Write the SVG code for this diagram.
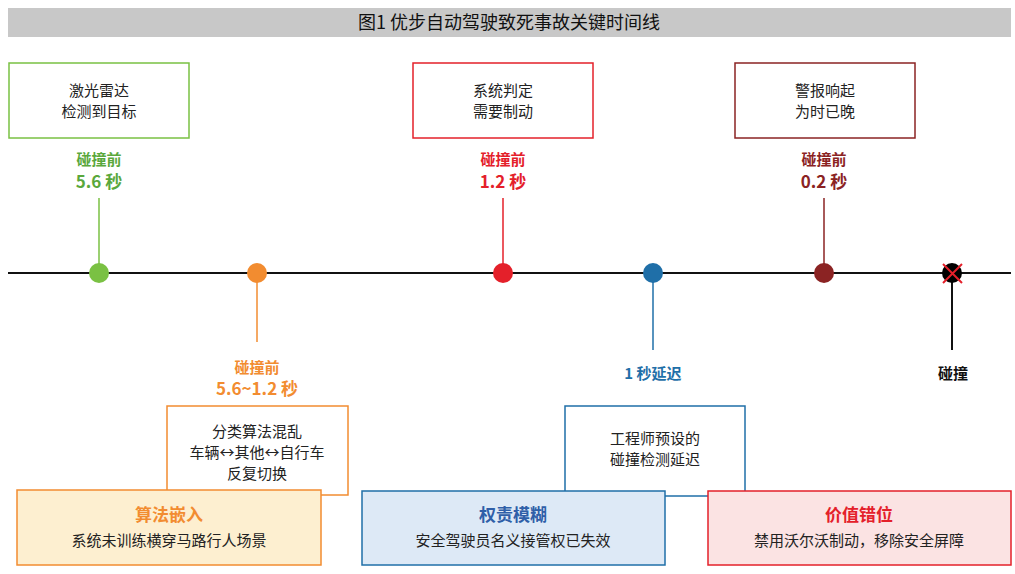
<svg xmlns="http://www.w3.org/2000/svg" width="1015" height="574" viewBox="0 0 1015 574">
<style>
text{font-family:"Noto Sans CJK SC","Liberation Sans",sans-serif;text-anchor:middle}
.t{font-size:15px;fill:#222}
.b{font-size:15px;font-weight:bold}
.bh{font-size:17px;font-weight:bold}
</style>
<rect width="1015" height="574" fill="#fff"/>
<rect x="8" y="8" width="1003" height="29" fill="#c8c8c8"/>
<text x="509" y="29" style="font-size:18px;fill:#111">图1 优步自动驾驶致死事故关键时间线</text>
<g id="connectors">
<line x1="8" y1="273" x2="1011" y2="273" stroke="#111" stroke-width="2"/>
<line x1="99" y1="198" x2="99" y2="273" stroke="#7ac143" stroke-width="1.5"/>
<line x1="503" y1="198" x2="503" y2="273" stroke="#e4202a" stroke-width="1.5"/>
<line x1="824" y1="198" x2="824" y2="273" stroke="#8b2323" stroke-width="1.5"/>
<line x1="257" y1="273" x2="257" y2="342" stroke="#f28c30" stroke-width="1.5"/>
<line x1="653" y1="273" x2="653" y2="350" stroke="#1f6fa8" stroke-width="1.5"/>
<line x1="952" y1="273" x2="952" y2="350" stroke="#111" stroke-width="2"/>
</g>
<g id="dots">
<circle cx="99" cy="273" r="10" fill="#7ac143"/>
<circle cx="257" cy="273" r="10" fill="#f28c30"/>
<circle cx="503" cy="273" r="10" fill="#e4202a"/>
<circle cx="653" cy="273" r="10" fill="#1f6fa8"/>
<circle cx="824" cy="273" r="10" fill="#8b2323"/>
<circle cx="952" cy="273" r="10" fill="#000"/>
<path d="M943 264L962 283M962 264L943 283" stroke="#e4202a" stroke-width="2"/>
</g>
<g id="n1"><rect x="9" y="63" width="180" height="75" fill="#fff" stroke="#7ac143" stroke-width="1.5"/>
<text class="t" x="99" y="96">激光雷达</text><text class="t" x="99" y="117">检测到目标</text>
<text class="b" x="99" y="165" fill="#5aa83c">碰撞前</text><text class="bh" x="99" y="188" fill="#5aa83c">5.6 秒</text></g>
<g id="n2"><rect x="413" y="63" width="180" height="75" fill="#fff" stroke="#e4202a" stroke-width="1.5"/>
<text class="t" x="503" y="96">系统判定</text><text class="t" x="503" y="117">需要制动</text>
<text class="b" x="503" y="165" fill="#e4202a">碰撞前</text><text class="bh" x="503" y="188" fill="#e4202a">1.2 秒</text></g>
<g id="n3"><rect x="735" y="63" width="180" height="75" fill="#fff" stroke="#8b2323" stroke-width="1.5"/>
<text class="t" x="825" y="96">警报响起</text><text class="t" x="825" y="117">为时已晚</text>
<text class="b" x="824" y="165" fill="#8b2323">碰撞前</text><text class="bh" x="824" y="188" fill="#8b2323">0.2 秒</text></g>
<g id="n4"><text class="b" x="257" y="373" fill="#f28c30">碰撞前</text><text class="bh" x="257" y="395" fill="#f28c30">5.6~1.2 秒</text>
<rect x="167" y="406" width="181" height="89" fill="#fff" stroke="#f28c30" stroke-width="1.5"/>
<text class="t" x="257" y="437">分类算法混乱</text><text class="t" x="257" y="458">车辆↔其他↔自行车</text><text class="t" x="257" y="479">反复切换</text></g>
<g id="n5"><text class="b" x="653" y="379" fill="#1f6fa8">1 秒延迟</text>
<rect x="565" y="406" width="180" height="90" fill="#fff" stroke="#1f6fa8" stroke-width="1.5"/>
<text class="t" x="655" y="444">工程师预设的</text><text class="t" x="655" y="465">碰撞检测延迟</text></g>
<g id="n6"><text class="b" x="953" y="379" fill="#111">碰撞</text></g>
<g id="n7"><rect x="17" y="490" width="304" height="75" fill="#fdefd0" stroke="#f28c30" stroke-width="1.5"/>
<text class="bh" x="169" y="521" fill="#f28c30">算法嵌入</text><text class="t" x="169" y="546">系统未训练横穿马路行人场景</text></g>
<g id="n8"><rect x="362" y="491" width="303" height="74" fill="#dde9f6" stroke="#1f6fa8" stroke-width="1.5"/>
<text class="bh" x="513" y="521" fill="#2f5fa8">权责模糊</text><text class="t" x="513" y="546">安全驾驶员名义接管权已失效</text></g>
<g id="n9"><rect x="708" y="491" width="303" height="74" fill="#fbe3e3" stroke="#e4202a" stroke-width="1.5"/>
<text class="bh" x="859" y="521" fill="#e4202a">价值错位</text><text class="t" x="859" y="546">禁用沃尔沃制动，移除安全屏障</text></g>
</svg>
